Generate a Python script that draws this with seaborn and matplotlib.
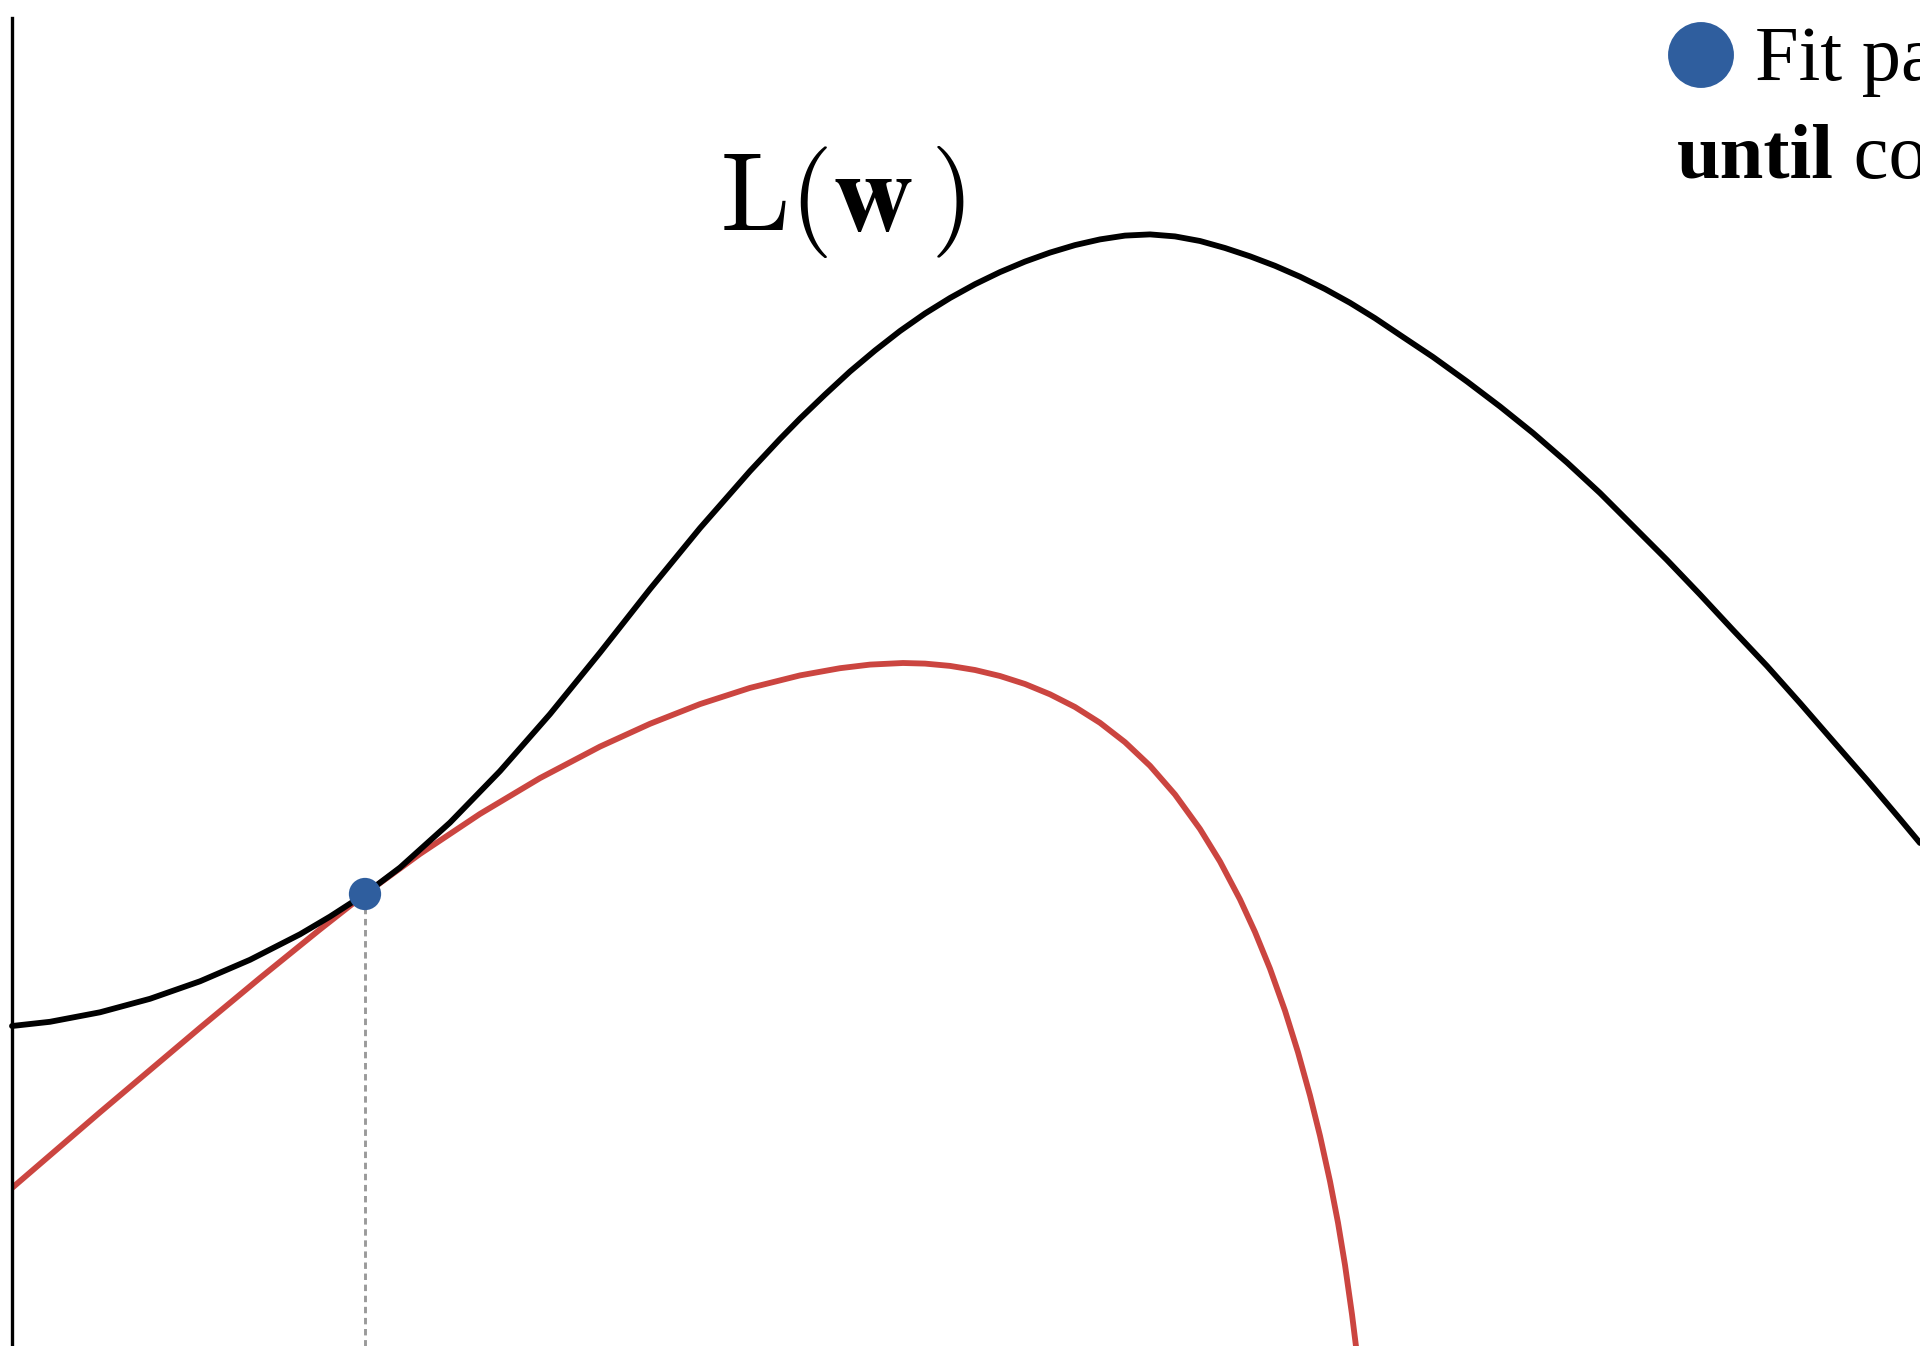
import matplotlib
matplotlib.use("Agg")
import matplotlib.pyplot as plt
import seaborn as sns
import pandas as pd

# Objective L(w) sampled along w
loss_w = [0.00, 0.38, 0.88, 1.38, 1.88, 2.38, 2.88, 3.18, 3.53, 3.88, 4.38, 4.88,
          5.38, 5.88, 6.38, 6.88, 7.38, 7.68, 7.88, 8.13, 8.38, 8.63, 8.88, 9.13,
          9.38, 9.63, 9.88, 10.13, 10.38, 10.63, 10.88, 11.13, 11.38, 11.63, 11.88,
          12.13, 12.38, 12.63, 12.88, 13.13, 13.38, 13.63, 13.88, 14.21, 14.55,
          14.88, 15.21, 15.55, 15.88, 16.21, 16.55, 16.88, 17.21, 17.55, 17.88,
          18.21, 18.55, 18.88, 19.08]
loss_L = [3.200, 3.242, 3.337, 3.472, 3.647, 3.862, 4.117, 4.294, 4.520, 4.784,
          5.234, 5.749, 6.319, 6.934, 7.569, 8.179, 8.749, 9.070, 9.274, 9.514,
          9.745, 9.955, 10.150, 10.325, 10.480, 10.618, 10.739, 10.844, 10.934,
          11.009, 11.066, 11.104, 11.116, 11.096, 11.050, 10.980, 10.897, 10.802,
          10.693, 10.570, 10.432, 10.278, 10.110, 9.890, 9.645, 9.395, 9.130,
          8.835, 8.530, 8.200, 7.860, 7.515, 7.160, 6.800, 6.430, 6.050, 5.660,
          5.270, 5.030]

# Lower-bound surrogate touching L(w) at the current iterate
bound_w = [0.00, 0.88, 1.88, 2.48, 3.08, 3.53, 4.08, 4.68, 5.28, 5.88, 6.38, 6.88,
           7.38, 7.88, 8.28, 8.58, 8.91, 9.13, 9.38, 9.63, 9.88, 10.13, 10.38,
           10.63, 10.88, 11.13, 11.38, 11.63, 11.88, 12.08, 12.28, 12.43, 12.58,
           12.73, 12.86, 12.98, 13.08, 13.18, 13.26, 13.33, 13.40, 13.46]
bound_L = [1.580, 2.337, 3.182, 3.680, 4.166, 4.520, 4.921, 5.321, 5.679, 5.994,
           6.222, 6.419, 6.581, 6.706, 6.778, 6.814, 6.830, 6.824, 6.801, 6.760,
           6.700, 6.620, 6.517, 6.390, 6.232, 6.038, 5.802, 5.515, 5.170, 4.845,
           4.466, 4.140, 3.773, 3.353, 2.937, 2.505, 2.102, 1.647, 1.233, 0.810,
           0.316, -0.164]

# Current iterate
iter_w = [3.53]
iter_L = [4.52]

BLACK = "#000000"
RED = "#cb4540"
BLUE = "#2f5e9e"
GREY = "#9a9a9a"

sns.set_theme(style="white")
plt.rcParams["mathtext.fontset"] = "custom"
plt.rcParams["mathtext.rm"] = "cmr10"
plt.rcParams["mathtext.bf"] = "STIXGeneral:bold"
plt.rcParams["font.family"] = ["Liberation Serif", "DejaVu Serif"]

fig = plt.figure(figsize=(19.2, 13.46), dpi=100)
ax = fig.add_axes([12 / 1920, 0, 1 - 12 / 1920, 1])
ax.set_xlim(0, 19.08)
ax.set_ylim(0, 13.46)

df_loss = pd.DataFrame({"w": loss_w, "L": loss_L})
df_bound = pd.DataFrame({"w": bound_w, "L": bound_L})

sns.lineplot(data=df_loss, x="w", y="L", color=BLACK, linewidth=4.2, sort=False,
             estimator=None, ax=ax, solid_capstyle="round",
             solid_joinstyle="round", clip_on=False, zorder=3)
sns.lineplot(data=df_bound, x="w", y="L", color=RED, linewidth=4.2, sort=False,
             estimator=None, ax=ax, solid_capstyle="round",
             solid_joinstyle="round", zorder=2)

# Drop line from the iterate down to the w axis
ax.plot([iter_w[0], iter_w[0]], [0, iter_L[0]], color=GREY, linewidth=2.1,
        linestyle=(0, (2.2, 1.6)), zorder=1)

sns.scatterplot(x=iter_w, y=iter_L, color=BLUE, s=540, edgecolor="none", ax=ax,
                zorder=5)

ax.text(7.08, 11.16, r"$\mathrm{L}(\mathbf{w}\,)$", fontsize=80, ha="left",
        va="baseline", color=BLACK)

# Step description in the upper right
ax.scatter([16.89], [12.91], s=2250, color=BLUE, edgecolor="none", zorder=5,
           clip_on=False)
ax.text(17.43, 12.66, "Fit parabola", fontsize=56.5, ha="left", va="baseline",
        color=BLACK, family=["Liberation Serif", "DejaVu Serif"], clip_on=False)
t_until = ax.text(16.65, 11.68, "until", fontsize=56.5, ha="left", va="baseline",
                  fontweight="bold", color=BLACK,
                  family=["Liberation Serif", "DejaVu Serif"])
ax.annotate(" convergence", xy=(1, 0), xycoords=t_until, ha="left", va="bottom",
            fontsize=56.5, color=BLACK, family=["Liberation Serif", "DejaVu Serif"])

for side in ["top", "right", "bottom"]:
    ax.spines[side].set_visible(False)
ax.spines["left"].set_color(BLACK)
ax.spines["left"].set_linewidth(2.4)
ax.spines["left"].set_bounds(0, 13.28)
ax.set_xticks([])
ax.set_yticks([])
ax.set_xlabel("")
ax.set_ylabel("")
legend = ax.get_legend()
if legend is not None:
    legend.remove()

fig.savefig("out.png", dpi=100, facecolor="white")
